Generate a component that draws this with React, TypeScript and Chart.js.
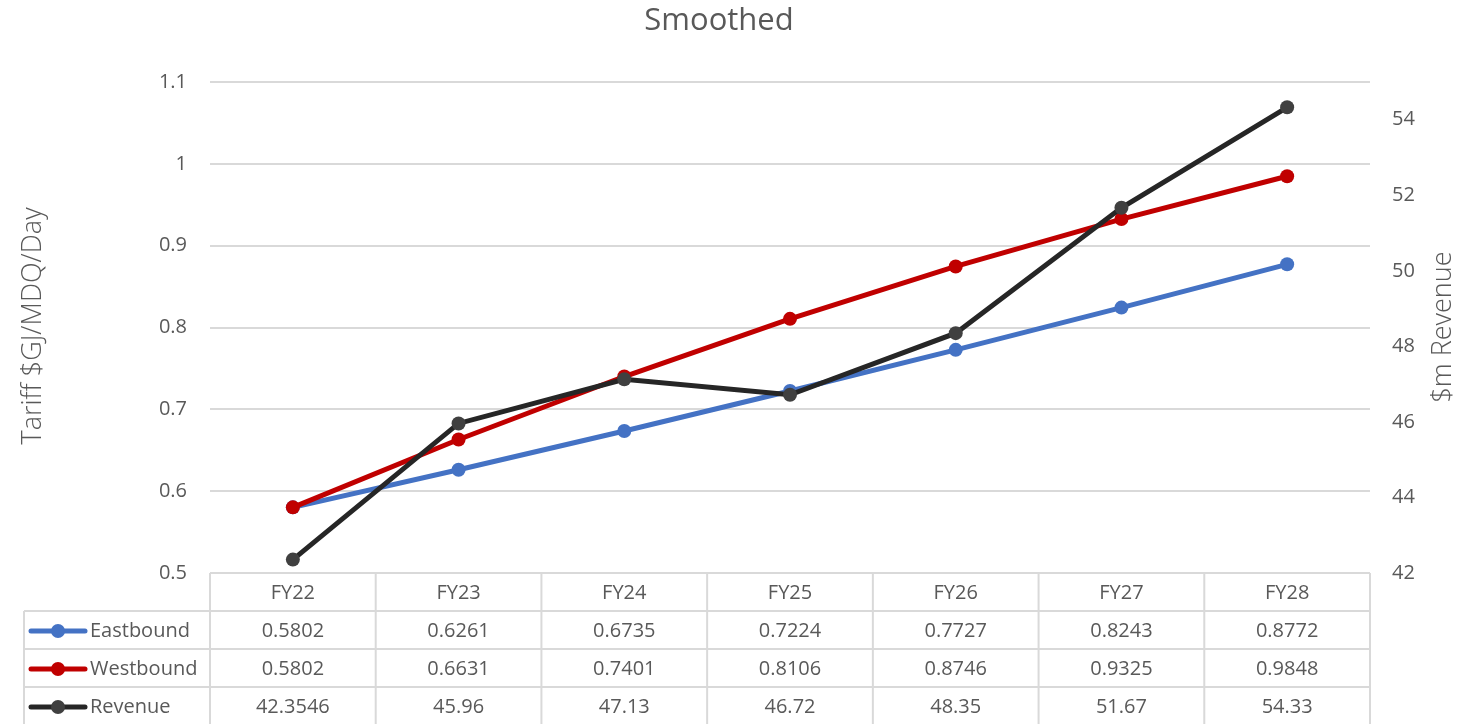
import React, { useEffect, useRef } from "react";
import { Chart, registerables } from "chart.js";

Chart.register(...registerables);

const categories = ["FY22", "FY23", "FY24", "FY25", "FY26", "FY27", "FY28"];
const eastbound = [0.5802, 0.6261, 0.6735, 0.7224, 0.7727, 0.8243, 0.8772];
const westbound = [0.5802, 0.6631, 0.7401, 0.8106, 0.8746, 0.9325, 0.9848];
const revenue = [42.3546, 45.96, 47.13, 46.72, 48.35, 51.67, 54.33];
const revenueLabels = ["42.3546", "45.96", "47.13", "46.72", "48.35", "51.67", "54.33"];

const FONT = '"Open Sans", "Liberation Sans", sans-serif';
const TEXT = "#595959";
const GRID = "#d9d9d9";
const LINE_W = 5;
const POINT_R = 7;

type Row = { name: string; color: string; marker: string; cells: string[] };

const tableRows: Row[] = [
  { name: "Eastbound", color: "#4472C4", marker: "#4472C4", cells: eastbound.map((v) => v.toFixed(4)) },
  { name: "Westbound", color: "#C00000", marker: "#C00000", cells: westbound.map((v) => v.toFixed(4)) },
  { name: "Revenue", color: "#262626", marker: "#404040", cells: revenueLabels },
];

// Title, rotated axis titles and the data table under the plot
const decorations = {
  id: "decorations",
  afterDraw(chart: any) {
    const { ctx, chartArea, scales } = chart;
    const x = scales.x;
    const n = categories.length;
    const left = chartArea.left;
    const right = chartArea.right;
    const colW = (right - left) / n;
    const top = chartArea.bottom;
    const rowH = 38;
    const tableLeft = 24;

    ctx.save();
    // title
    ctx.fillStyle = TEXT;
    ctx.font = `400 31px ${FONT}`;
    ctx.textAlign = "center";
    ctx.textBaseline = "middle";
    ctx.fillText("Smoothed", 719, 21);

    // axis titles, both reading bottom to top
    ctx.font = `300 27px ${FONT}`;
    ctx.save();
    ctx.translate(33, 326);
    ctx.rotate(-Math.PI / 2);
    ctx.fillText("Tariff $GJ/MDQ/Day", 0, 0);
    ctx.restore();
    ctx.save();
    ctx.translate(1443, 327);
    ctx.rotate(-Math.PI / 2);
    ctx.fillText("$m Revenue", 0, 0);
    ctx.restore();

    // table grid
    ctx.strokeStyle = GRID;
    ctx.lineWidth = 2;
    ctx.beginPath();
    ctx.moveTo(left, top);
    ctx.lineTo(right, top);
    for (let r = 1; r <= tableRows.length; r++) {
      const y = top + r * rowH;
      ctx.moveTo(tableLeft, y);
      ctx.lineTo(right, y);
    }
    for (let k = 0; k <= n; k++) {
      const xx = left + k * colW;
      ctx.moveTo(xx, top);
      ctx.lineTo(xx, top + (tableRows.length + 1) * rowH + 2);
    }
    ctx.moveTo(tableLeft, top + rowH);
    ctx.lineTo(tableLeft, top + (tableRows.length + 1) * rowH + 2);
    ctx.stroke();

    // header
    ctx.fillStyle = TEXT;
    ctx.font = `400 20px ${FONT}`;
    ctx.textAlign = "center";
    ctx.textBaseline = "middle";
    categories.forEach((c, i) => {
      ctx.fillText(c, x.getPixelForValue(i), top + rowH / 2 + 1);
    });

    // rows with legend keys
    tableRows.forEach((row, r) => {
      const cy = top + (r + 1) * rowH + rowH / 2 + 1;
      ctx.strokeStyle = row.color;
      ctx.lineWidth = LINE_W;
      ctx.lineCap = "round";
      ctx.beginPath();
      ctx.moveTo(31, cy);
      ctx.lineTo(85, cy);
      ctx.stroke();
      ctx.fillStyle = row.marker;
      ctx.beginPath();
      ctx.arc(58, cy, POINT_R, 0, Math.PI * 2);
      ctx.fill();

      ctx.fillStyle = TEXT;
      ctx.textAlign = "left";
      ctx.fillText(row.name, 90, cy);
      ctx.textAlign = "center";
      row.cells.forEach((v, i) => {
        ctx.fillText(v, x.getPixelForValue(i), cy);
      });
    });
    ctx.restore();
  },
};

export default function App() {
  const canvasRef = useRef<HTMLCanvasElement | null>(null);

  useEffect(() => {
    const canvas = canvasRef.current;
    if (!canvas) return;
    const chart = new Chart(canvas, {
      type: "line",
      data: {
        labels: categories,
        datasets: [
          {
            label: "Eastbound",
            data: eastbound,
            yAxisID: "y",
            borderColor: "#4472C4",
            backgroundColor: "#4472C4",
            pointBackgroundColor: "#4472C4",
            pointBorderColor: "#4472C4",
            borderWidth: LINE_W,
            pointRadius: POINT_R,
            pointBorderWidth: 0,
            order: 2,
          },
          {
            label: "Westbound",
            data: westbound,
            yAxisID: "y",
            borderColor: "#C00000",
            backgroundColor: "#C00000",
            pointBackgroundColor: "#C00000",
            pointBorderColor: "#C00000",
            borderWidth: LINE_W,
            pointRadius: POINT_R,
            pointBorderWidth: 0,
            order: 1,
          },
          {
            label: "Revenue",
            data: revenue,
            yAxisID: "y1",
            borderColor: "#262626",
            backgroundColor: "#404040",
            pointBackgroundColor: "#404040",
            pointBorderColor: "#404040",
            borderWidth: LINE_W,
            pointRadius: POINT_R,
            pointBorderWidth: 0,
            order: 0,
          },
        ],
      },
      options: {
        animation: false,
        responsive: true,
        maintainAspectRatio: false,
        layout: { padding: { top: 82, left: 0, right: 0, bottom: 0 } },
        plugins: {
          legend: { display: false },
          tooltip: { enabled: false },
          title: { display: false },
        },
        scales: {
          x: {
            offset: true,
            grid: { display: false },
            border: { display: false },
            ticks: { display: false },
            afterFit: (s: any) => {
              s.height = 151;
            },
          },
          y: {
            position: "left",
            min: 0.5,
            max: 1.1,
            ticks: {
              stepSize: 0.1,
              padding: 23,
              color: TEXT,
              font: { family: FONT, size: 20 },
              callback: (v: any) => String(Number(Number(v).toFixed(1))),
            },
            grid: { color: GRID, lineWidth: 2, drawTicks: false },
            border: { display: false },
            afterFit: (s: any) => {
              s.width = 210;
            },
          },
          y1: {
            position: "right",
            min: 42,
            max: 55,
            ticks: {
              stepSize: 2,
              padding: 22,
              color: TEXT,
              font: { family: FONT, size: 20 },
            },
            afterBuildTicks: (s: any) => {
              s.ticks = s.ticks.filter((t: any) => t.value % 2 === 0);
            },
            grid: { display: false, drawTicks: false },
            border: { display: false },
            afterFit: (s: any) => {
              s.width = 98;
            },
          },
        },
      },
      plugins: [decorations],
    });
    return () => chart.destroy();
  }, []);

  return (
    <div style={{ position: "absolute", left: 0, top: 0, width: 1468, height: 724, background: "#fff" }}>
      <canvas ref={canvasRef} />
    </div>
  );
}
